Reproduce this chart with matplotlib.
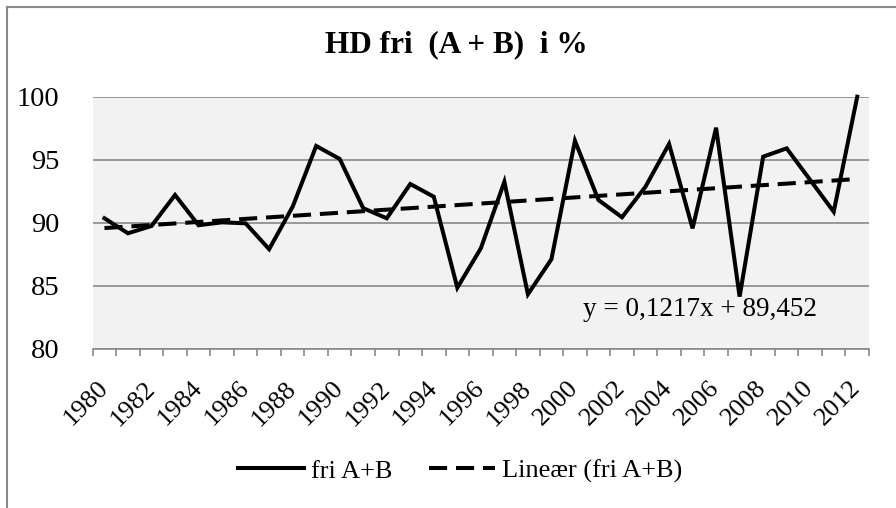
import matplotlib
matplotlib.use("Agg")
import matplotlib.pyplot as plt
from matplotlib.lines import Line2D
import numpy as np

years = list(range(1980, 2013))
values = [90.35, 89.16, 89.74, 92.2, 89.8, 90.03, 89.95, 87.9, 91.27, 96.09,
          95.06, 91.15, 90.35, 93.07, 92.06, 84.84, 87.97, 93.25, 84.32, 87.1,
          96.5, 91.8, 90.43, 92.86, 96.25, 89.55, 97.54, 84.13, 95.24, 95.9,
          93.39, 90.87, 100.0]
trend_slope = 0.1217
trend_intercept = 89.452
trend_label = "y = 0,1217x + 89,452"
title = "HD fri  (A + B)  i %"
series_name = "fri A+B"
trend_name = "Lineær (fri A+B)"
yticks = [80, 85, 90, 95, 100]

plt.rcParams['font.family'] = ['Liberation Serif', 'DejaVu Serif']

W, H = 896, 508
fig = plt.figure(figsize=(W / 100, H / 100), dpi=100)
ax = fig.add_axes([92.7 / W, 1 - 348.7 / H, (869 - 92.7) / W, (348.7 - 96.7) / H])
ax.set_facecolor('#f2f2f2')

x = np.arange(len(years))
ax.plot(x, values, color='black', lw=2.9, solid_joinstyle='miter', zorder=3,
        label=series_name, clip_on=False)
xt = x + 1
trend = trend_intercept + trend_slope * xt
ax.plot(x, trend, color='black', lw=2.9, dashes=(4.5, 2.2), zorder=3,
        label=trend_name)

ax.set_xlim(-0.5, len(years) - 0.5)
ax.set_ylim(80, 100)
ax.set_yticks(yticks)
ax.set_yticklabels([str(v) for v in yticks], fontsize=20.5)
ax.yaxis.grid(True, color='#898989', lw=1.2)
ax.set_axisbelow(True)
ax.tick_params(axis='y', length=0, pad=24)

ax.set_xticks(x[::2])
ax.set_xticklabels([str(y) for y in years[::2]], rotation=45, ha='right',
                   va='center', rotation_mode='anchor', fontsize=19)
ax.set_xticks(np.arange(-0.5, len(years)), minor=True)
ax.tick_params(axis='x', which='major', length=0, pad=26)
ax.tick_params(axis='x', which='minor', length=5, width=1.2, color='#898989')

for s in ['left', 'right', 'top']:
    ax.spines[s].set_visible(False)
ax.spines['bottom'].set_color('#898989')
ax.spines['bottom'].set_linewidth(1.2)

fig.text(456 / W, 1 - 45 / H, title, ha='center', va='center', fontsize=22.5,
         fontweight='bold')
ax.text(700 / W, 1 - 309 / H, trend_label, transform=fig.transFigure,
        ha='center', va='center', fontsize=19.5)

fig.legend(loc='center', bbox_to_anchor=(460 / W, 1 - 471 / H), ncol=2,
           frameon=False, fontsize=19, handlelength=2.5, handletextpad=0.25,
           columnspacing=1.4)

fig.add_artist(Line2D([6.5 / W, 6.5 / W], [0, 1 - 6.5 / H], color='#898989', lw=1.5,
                      transform=fig.transFigure))
fig.add_artist(Line2D([6.5 / W, 1], [1 - 6.5 / H, 1 - 6.5 / H], color='#898989', lw=1.5,
                      transform=fig.transFigure))

fig.savefig('out.png', dpi=100, facecolor='white')
